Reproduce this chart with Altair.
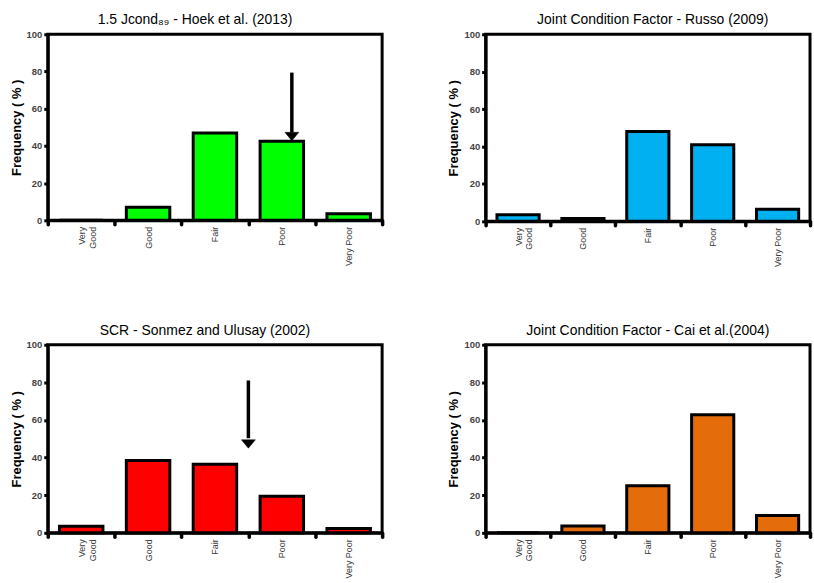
import altair as alt
import pandas as pd

cats = ["Very Good", "Good", "Fair", "Poor", "Very Poor"]
hoek = [0, 7, 47, 42.5, 3.5]
russo = [3.5, 1.5, 48, 41, 6.5]
sonmez = [3.5, 38.5, 36.5, 19.5, 2.3]
cai = [0, 3.6, 25, 62.8, 9.2]

titles = ["1.5 Jcond₈₉ - Hoek et al. (2013)",
          "Joint Condition Factor - Russo (2009)",
          "SCR - Sonmez and Ulusay (2002)",
          "Joint Condition Factor - Cai et al.(2004)"]
colors = ["#00ff00", "#00b0f0", "#ff0000", "#e46c0a"]

# arrows: category, position within band, shaft top, head base, tip
arrow_hoek = {"cat": ["Poor"], "pos": 0.65, "top": [79.4], "base": [47.3], "tip": [42.8]}
arrow_sonmez = {"cat": ["Poor"], "pos": 0.0, "top": [81], "base": [50.3], "tip": [45]}

FONT = "Liberation Sans"
YTITLE = "Frequency ( % )"


def panel(vals, color, title, dx, width, height, arrow=None):
    df = pd.DataFrame({"cat": cats, "val": vals})
    xscale = alt.Scale(domain=cats, paddingInner=0, paddingOuter=0)
    yscale = alt.Scale(domain=[0, 100], nice=False)
    xaxis = alt.Axis(labelAngle=-90, labelFontSize=9, labelColor="#3a3a3a",
                     labelFont=FONT, labelLineHeight=11,
                     labelExpr="datum.value == 'Very Good' ? ['Very', 'Good'] : datum.label",
                     tickBand="extent", tickSize=4, tickWidth=3.5, tickColor="black",
                     tickCap="round", domainColor="black", domainWidth=3,
                     labelPadding=2)
    yaxis = alt.Axis(values=[0, 20, 40, 60, 80, 100], grid=False,
                     labelFontSize=9.5, labelColor="#444", labelFont=FONT,
                     labelFontWeight="bold",
                     tickSize=4, tickWidth=3, tickColor="black",
                     domainColor="black", domainWidth=3,
                     titleFont=FONT, titleFontSize=13, titleFontWeight="bold",
                     titleColor="black", titlePadding=3, labelPadding=2)
    x = alt.X("cat:N", sort=cats, scale=xscale, title=None, axis=xaxis)
    y = alt.Y("val:Q", scale=yscale, title=YTITLE, axis=yaxis)
    bars = alt.Chart(df).mark_bar(width=alt.RelativeBandSize(0.65), fill=color,
                                  stroke="black", strokeWidth=3).encode(x=x, y=y)
    layers = [bars]
    if arrow is not None:
        adf = pd.DataFrame({"cat": arrow["cat"], "top": arrow["top"],
                            "base": arrow["base"], "tip": arrow["tip"]})
        ax = alt.X("cat:N", sort=cats, scale=xscale, bandPosition=arrow["pos"],
                   title=None, axis=xaxis)
        shaft = alt.Chart(adf).mark_rule(color="black", strokeWidth=3.5).encode(
            x=ax, y=alt.Y("top:Q", scale=yscale, title=YTITLE, axis=yaxis), y2="base:Q")
        head = alt.Chart(adf).mark_point(shape="M-1,-1.2L1,-1.2L0,0Z", filled=True,
                                         fill="black", stroke="black", strokeWidth=0.5,
                                         opacity=1, size=196).encode(
            x=ax, y=alt.Y("tip:Q", scale=yscale, title=YTITLE, axis=yaxis))
        layers += [shaft, head]
    return alt.layer(*layers).properties(
        width=width, height=height,
        title=alt.TitleParams(title, font=FONT, fontSize=14, fontWeight="normal",
                              color="black", anchor="middle", dx=dx, offset=2))


p1 = panel(hoek, colors[0], titles[0], -20, 336, 187, arrow_hoek)
p2 = panel(russo, colors[1], titles[1], 5, 326, 188)
p3 = panel(sonmez, colors[2], titles[2], -10, 336, 189, arrow_sonmez)
p4 = panel(cai, colors[3], titles[3], 0, 326, 189)

top = alt.hconcat(p1, p2, spacing=60)
bottom = alt.hconcat(p3, p4, spacing=60)
chart = alt.vconcat(top, bottom, spacing=53).properties(
    padding={"left": 8, "top": 10, "right": 0, "bottom": 0}
).configure(background="white").configure_view(stroke="black", strokeWidth=3)

chart.save("out.html", embed_options={"renderer": "svg", "actions": False})
